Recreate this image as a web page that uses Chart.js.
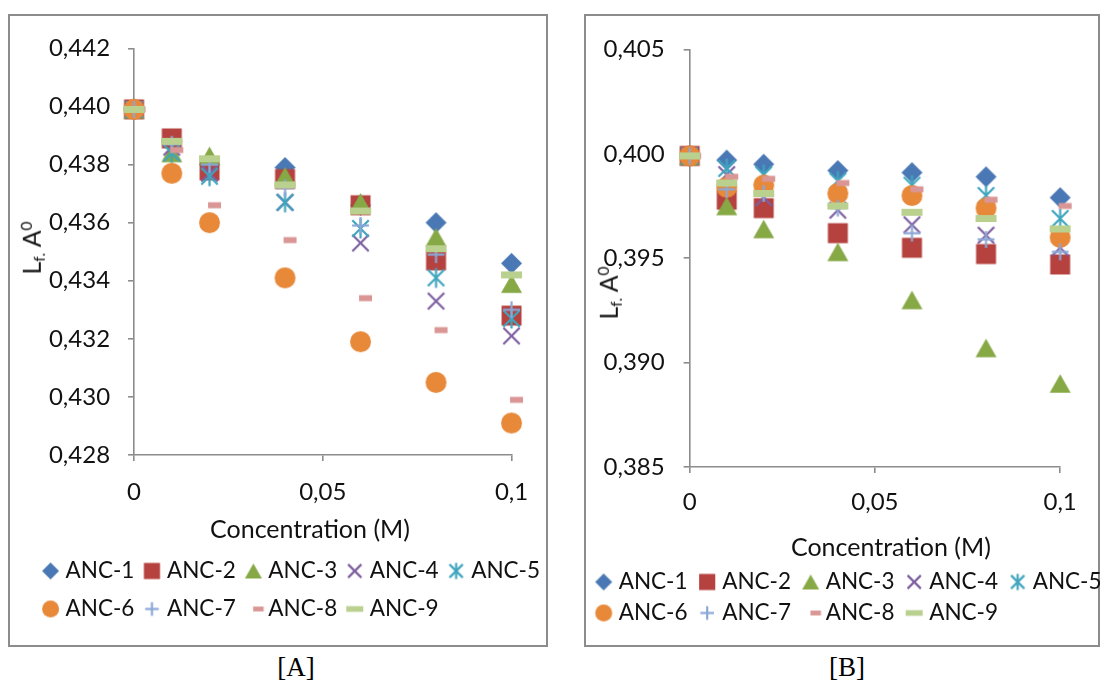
<!DOCTYPE html>
<html>
<head>
<meta charset="utf-8">
<script src="https://cdn.jsdelivr.net/npm/chart.js@4.4.1/dist/chart.umd.min.js"></script>
<style>
html, body { margin:0; padding:0; background:#fff; overflow:hidden; width:1103px; height:682px; position:relative; }
.box { position:absolute; border:2px solid #8c8c8c; box-sizing:border-box; }
#boxA { left:8px; top:14px; width:540px; height:633px; }
#boxB { left:584px; top:14px; width:516px; height:633px; }
canvas { position:absolute; }
.ytitle { position:absolute; font-family:Lato, sans-serif; color:#111; white-space:nowrap;
  transform:translate(-50%,-50%) rotate(-90deg); line-height:1; }
.ytitle sub { font-size:62%; vertical-align:-0.25em; }
.ytitle sup { font-size:62%; vertical-align:0.55em; }
.cap { position:absolute; font-family:'Liberation Serif', serif; font-size:27px; color:#000; transform:translate(-50%,-50%); }
</style>
</head>
<body>
<div class="box" id="boxA"></div>
<div class="box" id="boxB"></div>
<canvas id="chartA"></canvas>
<canvas id="chartB"></canvas>
<div class="ytitle" id="ytA" style="left:33px; top:248px;">L<sub>f.</sub> A<sup>0</sup></div>
<div class="ytitle" id="ytB" style="left:610px; top:293px;">L<sub>f.</sub> A<sup>0</sup></div>
<div class="cap" style="left:296px; top:667px;">[A]</div>
<div class="cap" style="left:847px; top:667px;">[B]</div>
<script>
// ---------------- data ----------------
const concentrations = [0, 0.01, 0.02, 0.04, 0.06, 0.08, 0.1];
const seriesNames = ['ANC-1', 'ANC-2', 'ANC-3', 'ANC-4', 'ANC-5', 'ANC-6', 'ANC-7', 'ANC-8', 'ANC-9'];

// Panel [A]
const a1 = [0.4399, 0.4388, 0.4380, 0.4379, 0.4366, 0.4360, 0.4346];
const a2 = [0.4399, 0.4389, 0.4378, 0.4375, 0.4366, 0.4347, 0.4328];
const a3 = [0.4399, 0.4384, 0.4383, 0.4376, 0.4367, 0.4355, 0.4339];
const a4 = [0.4399, 0.4386, 0.4377, 0.4367, 0.4353, 0.4333, 0.4321];
const a5 = [0.4399, 0.4384, 0.4376, 0.4367, 0.4358, 0.4341, 0.4327];
const a6 = [0.4399, 0.4377, 0.4360, 0.4341, 0.4319, 0.4305, 0.4291];
const a7 = [0.4399, 0.4387, 0.4380, 0.4372, 0.4359, 0.4349, 0.4330];
const a8 = [0.4399, 0.4385, 0.4366, 0.4354, 0.4334, 0.4323, 0.4299];
const a9 = [0.4399, 0.4388, 0.4382, 0.4373, 0.4364, 0.4351, 0.4342];

// Panel [B]
const b1 = [0.3999, 0.3997, 0.3995, 0.3992, 0.3991, 0.3989, 0.3979];
const b2 = [0.3999, 0.3978, 0.3974, 0.3962, 0.3955, 0.3952, 0.3947];
const b3 = [0.3999, 0.3975, 0.3964, 0.3953, 0.3930, 0.3907, 0.3890];
const b4 = [0.3999, 0.3990, 0.3979, 0.3973, 0.3966, 0.3961, 0.3955];
const b5 = [0.3999, 0.3993, 0.3990, 0.3987, 0.3985, 0.3980, 0.3969];
const b6 = [0.3999, 0.3984, 0.3985, 0.3981, 0.3980, 0.3974, 0.3960];
const b7 = [0.3999, 0.3983, 0.3981, 0.3974, 0.3962, 0.3959, 0.3953];
const b8 = [0.3999, 0.3989, 0.3988, 0.3986, 0.3983, 0.3978, 0.3975];
const b9 = [0.3999, 0.3986, 0.3981, 0.3975, 0.3972, 0.3969, 0.3964];

// ticks
const xTickValues = [0, 0.05, 0.1];
const xTickLabels = ['0', '0,05', '0,1'];
const yTickValuesA = [0.428, 0.430, 0.432, 0.434, 0.436, 0.438, 0.440, 0.442];
const yTickLabelsA = ['0,428', '0,430', '0,432', '0,434', '0,436', '0,438', '0,440', '0,442'];
const yTickValuesB = [0.385, 0.390, 0.395, 0.400, 0.405];
const yTickLabelsB = ['0,385', '0,390', '0,395', '0,400', '0,405'];
const xTitle = 'Concentration (M)';

// ---------------- styles ----------------
const FONT = 'Lato';
const F = 22.5;      // legend font
const FT = 24;       // tick font
const FX = 25;       // axis title font
const TXT = '#111';
const AXIS = '#8c8c8c';
const markerTypes = ['diamond', 'square', 'triangle', 'x', 'asterisk', 'circle', 'plus', 'dash', 'bar'];
const markerColors = ['#4A78B5', '#B5423F', '#86A845', '#7D5FA0', '#3FA5BE', '#E8893A', '#8BA7D6', '#D99694', '#B9D08F'];
const markerShift = [0, 0, 0, 0, 0, 0, 0, 5, 0];

document.getElementById('ytA').style.fontSize = FX + 'px';
document.getElementById('ytB').style.fontSize = FX + 'px';

function makeMarker(type, color, s, off) {
  off = off || 0;
  const pad = 3;
  const W = Math.ceil(2 * (Math.abs(off) + s / 2) + 2 * pad);
  const H = Math.ceil(s + 2 * pad);
  const c = document.createElement('canvas');
  c.width = W; c.height = H;
  const g = c.getContext('2d');
  g.translate(W / 2 + off, H / 2);
  g.fillStyle = color; g.strokeStyle = color; g.lineWidth = 2.2;
  const h = s / 2;
  const line = (x1, y1, x2, y2) => { g.beginPath(); g.moveTo(x1, y1); g.lineTo(x2, y2); g.stroke(); };
  switch (type) {
    case 'diamond':
      g.beginPath(); g.moveTo(0, -h); g.lineTo(h, 0); g.lineTo(0, h); g.lineTo(-h, 0); g.closePath(); g.fill(); break;
    case 'square': {
      const q = h * 0.95; g.fillRect(-q, -q, 2 * q, 2 * q); break; }
    case 'triangle': {
      const t = h * 0.88; g.beginPath(); g.moveTo(0, -t); g.lineTo(h, t); g.lineTo(-h, t); g.closePath(); g.fill(); break; }
    case 'x': {
      const a = h * 0.78; line(-a, -a, a, a); line(-a, a, a, -a); break; }
    case 'asterisk': {
      const a = h * 0.78; line(-a, -a, a, a); line(-a, a, a, -a); line(0, -h * 0.95, 0, h * 0.95); break; }
    case 'circle':
      g.beginPath(); g.arc(0, 0, h, 0, Math.PI * 2); g.fill(); break;
    case 'plus': {
      const p = h * 0.8; line(-p, 0, p, 0); line(0, -p, 0, p); break; }
    case 'dash': {
      const w = s * 13 / 21, hh = s * 6 / 21; g.fillRect(-w / 2, -hh / 2, w, hh); break; }
    case 'bar': {
      const w = s, hh = s * 7 / 21; g.fillRect(-w / 2, -hh / 2, w, hh); break; }
  }
  return c;
}

const plotMarks = markerTypes.map((t, i) => makeMarker(t, markerColors[i], 21, markerShift[i]));

const mctx = document.createElement('canvas').getContext('2d');
mctx.font = F + 'px ' + FONT;
const tw = mctx.measureText('ANC-1').width;
mctx.font = FX + 'px ' + FONT;
const sw = mctx.measureText(' ').width;
const lhT = FT * 1.2;
const lhX = FX * 1.2;

function build(id, P, seriesValues, yVals, yLabels, yMin, yMax) {
  const pad = P.rowPitch - F;
  const bw = P.itemPitch - tw - F / 2 - pad;
  const off = bw / 2 + F / 2 - P.markerToText;
  const L = P.firstMarkerX - pad - bw - F / 2 + P.markerToText;
  const T = 16;
  const legendTop = P.row1Y - pad - F / 2;
  const legendH = 2 * P.rowPitch + 10;
  const Hc = Math.ceil(legendTop + legendH - T);
  const padBottom = Hc - (legendTop + legendH - T);
  const W = Math.ceil(5 * P.itemPitch + pad + 3);
  const xH = legendTop - P.bottom;
  const xTickPad = P.xLabelY - P.bottom - 6 - lhT / 2;
  const yW = P.axisX0 - L;
  const yTickPad = P.axisX0 - 6 - P.tickRightEnd;
  const yRW = L + W - P.axisX1;
  const shift = P.titleX - (P.axisX0 + P.axisX1) / 2;
  const nSp = Math.round(Math.abs(shift) * 2 / sw);
  const titleText = shift < 0 ? xTitle + ' '.repeat(nSp) : ' '.repeat(nSp) + xTitle;
  const titlePadBottom = legendTop - P.titleY - lhX / 2;

  const legendMarks = markerTypes.map((t, i) => makeMarker(t, markerColors[i], 17, off + markerShift[i]));

  const cv = document.getElementById(id);
  cv.width = W; cv.height = Hc;
  cv.style.left = L + 'px'; cv.style.top = T + 'px';
  cv.style.width = W + 'px'; cv.style.height = Hc + 'px';

  const datasets = seriesNames.map((name, i) => ({
    label: name,
    data: concentrations.map((c, j) => ({ x: c, y: seriesValues[i][j] })),
    pointStyle: plotMarks[i],
    pointRadius: 10,
    pointHoverRadius: 10,
    backgroundColor: markerColors[i],
    borderColor: markerColors[i],
    showLine: false,
    clip: false,
    order: seriesNames.length - i
  }));

  const fontL = { family: FONT, size: F };
  const fontT = { family: FONT, size: FT };
  const fontX = { family: FONT, size: FX };

  return new Chart(cv, {
    type: 'scatter',
    data: { datasets },
    options: {
      responsive: false,
      animation: false,
      devicePixelRatio: 1,
      events: [],
      layout: { padding: { top: P.top - T, left: 0, right: 0, bottom: padBottom } },
      scales: {
        x: {
          type: 'linear', position: 'bottom', min: 0, max: 0.1,
          afterBuildTicks: s => { s.ticks = xTickValues.map(v => ({ value: v })); },
          afterFit: s => { s.height = xH; },
          ticks: { callback: (v, i) => xTickLabels[i], font: fontT, color: TXT, padding: xTickPad, maxRotation: 0, autoSkip: false },
          grid: { display: true, drawOnChartArea: false, drawTicks: true, tickLength: 6, color: AXIS, lineWidth: 1.6 },
          border: { display: true, color: AXIS, width: 1.6 },
          title: { display: true, text: titleText, font: fontX, color: TXT, padding: { top: 0, bottom: titlePadBottom } }
        },
        y: {
          type: 'linear', position: 'left', min: yMin, max: yMax,
          afterBuildTicks: s => { s.ticks = yVals.map(v => ({ value: v })); },
          afterFit: s => { s.width = yW; },
          ticks: { callback: (v, i) => yLabels[i], font: fontT, color: TXT, padding: yTickPad, autoSkip: false },
          grid: { display: true, drawOnChartArea: false, drawTicks: true, tickLength: 6, color: AXIS, lineWidth: 1.6 },
          border: { display: true, color: AXIS, width: 1.6 }
        },
        yR: {
          type: 'linear', position: 'right', display: true,
          afterFit: s => { s.width = yRW; },
          ticks: { display: false },
          grid: { display: false, drawTicks: false },
          border: { display: false }
        }
      },
      plugins: {
        tooltip: { enabled: false },
        legend: {
          display: true, position: 'bottom', align: 'start',
          labels: {
            usePointStyle: true, boxWidth: bw, boxHeight: F, padding: pad,
            font: fontL, color: TXT,
            generateLabels: chart => chart.data.datasets.map((ds, i) => ({
              text: ds.label, pointStyle: legendMarks[i], fillStyle: markerColors[i],
              strokeStyle: markerColors[i], lineWidth: 0, hidden: false, datasetIndex: i, fontColor: TXT
            }))
          }
        }
      }
    }
  });
}

const panelA = { axisX0: 134, axisX1: 511.5, top: 43, bottom: 455, tickRightEnd: 110, xLabelY: 492,
  titleY: 530, titleX: 309, row1Y: 571, rowPitch: 38, itemPitch: 101.4, firstMarkerX: 50.5, markerToText: 15 };
const panelB = { axisX0: 690, axisX1: 1060.5, top: 44, bottom: 467, tickRightEnd: 665, xLabelY: 502,
  titleY: 548, titleX: 891, row1Y: 582, rowPitch: 31, itemPitch: 103.5, firstMarkerX: 604, markerToText: 15 };

build('chartA', panelA, [a1, a2, a3, a4, a5, a6, a7, a8, a9], yTickValuesA, yTickLabelsA, 0.428, 0.442);
build('chartB', panelB, [b1, b2, b3, b4, b5, b6, b7, b8, b9], yTickValuesB, yTickLabelsB, 0.385, 0.405);
</script>
</body>
</html>
